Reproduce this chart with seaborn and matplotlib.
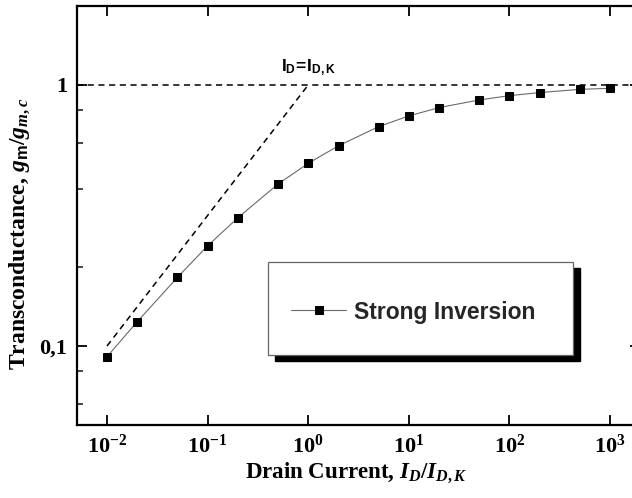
import matplotlib
matplotlib.use("Agg")
import matplotlib.pyplot as plt
from matplotlib.patches import Rectangle
from matplotlib.ticker import FixedLocator, FixedFormatter, NullFormatter
import pandas as pd
import seaborn as sns

# Normalised drain current and transconductance (strong inversion curve)
current_ratio = [0.01, 0.02, 0.05, 0.1, 0.2, 0.5, 1, 2, 5, 10, 20, 50, 100, 200, 500, 1000]
gm_ratio = [0.091, 0.124, 0.183, 0.242, 0.310, 0.417, 0.501, 0.585, 0.692,
            0.761, 0.819, 0.876, 0.910, 0.935, 0.962, 0.971]

# Weak-inversion asymptote and saturation level
asym_x = [0.01, 1.0]
asym_y = [0.1, 1.0]
sat_level = 1.0

x_ticks = [1e-2, 1e-1, 1e0, 1e1, 1e2, 1e3]
x_tick_labels = [r"$\mathbf{10^{-2}}$", r"$\mathbf{10^{-1}}$", r"$\mathbf{10^{0}}$",
                 r"$\mathbf{10^{1}}$", r"$\mathbf{10^{2}}$", r"$\mathbf{10^{3}}$"]
y_ticks = [0.1, 1.0]
y_tick_labels = ["0,1", "1"]
y_minor_ticks = [0.06, 0.08, 0.2, 0.4, 0.6, 0.8]

sns.set_theme(style="ticks")
plt.rcParams.update({
    "font.family": ["Liberation Serif", "DejaVu Serif"],
    "font.weight": "bold",
    "mathtext.fontset": "custom",
    "mathtext.rm": "Liberation Serif:bold",
    "mathtext.bf": "Liberation Serif:bold",
    "mathtext.it": "Liberation Serif:italic:bold",
    "mathtext.sf": "Liberation Sans",
})

df = pd.DataFrame({"current": current_ratio, "gm": gm_ratio})

fig = plt.figure(figsize=(6.32, 4.98), dpi=100)
ax = fig.add_axes([0.1214, 0.1474, 0.8918, 0.8398])
ax.set_xscale("log")
ax.set_yscale("log")

sns.lineplot(data=df, x="current", y="gm", ax=ax, color="#6a6a6a", lw=0.8,
             marker="s", markersize=6, markerfacecolor="black",
             markeredgecolor="black", label="Strong Inversion", zorder=4)

ax.plot(asym_x, asym_y, color="black", lw=1.1, ls=(0, (4, 3)), zorder=3)
ax.axhline(sat_level, color="black", lw=1.1, ls=(0, (4, 3)), zorder=3)

ax.text(1.0, 1.06, r"$\mathsf{I_D\!=\!I_{D,K}}$", fontsize=12.5,
        ha="center", va="bottom", color="black")

ax.set_xlim(5e-3, 2e3)
ax.set_ylim(0.05, 2.0)

ax.xaxis.set_major_locator(FixedLocator(x_ticks))
ax.xaxis.set_major_formatter(FixedFormatter(x_tick_labels))
ax.xaxis.set_minor_locator(FixedLocator([]))
ax.yaxis.set_major_locator(FixedLocator(y_ticks))
ax.yaxis.set_major_formatter(FixedFormatter(y_tick_labels))
ax.yaxis.set_minor_locator(FixedLocator(y_minor_ticks))
ax.yaxis.set_minor_formatter(NullFormatter())

ax.tick_params(axis="both", which="major", direction="in", length=7, width=1.3,
               top=True, right=True, labelsize=16, colors="black")
ax.tick_params(axis="y", which="minor", direction="in", length=4, width=1.2, right=True)
ax.tick_params(axis="x", which="major", pad=7)
ax.tick_params(axis="y", which="major", pad=7)
for lbl in ax.get_yticklabels():
    lbl.set_fontweight("bold")

for side in ("left", "bottom", "top", "right"):
    ax.spines[side].set_linewidth(1.6)
    ax.spines[side].set_color("black")

ax.set_xlabel(r"Drain Current, $I_D/I_{D,K}$", fontsize=16.5, fontweight="bold", color="black")
ax.set_ylabel(r"Transconductance, $g_{\mathsf{m}}/g_{m,c}$", fontsize=17,
              fontweight="bold", color="black")
ax.xaxis.set_label_coords(0.4956, -0.088)
ax.yaxis.set_label_coords(-0.079, 0.456)

# Legend box with solid drop shadow
box_x, box_y, box_w, box_h = 0.3394, 0.1664, 0.5412, 0.2224
ax.add_patch(Rectangle((box_x + 0.0124, box_y - 0.0143), box_w, box_h,
                       transform=ax.transAxes, facecolor="black", edgecolor="black",
                       zorder=5))
ax.add_patch(Rectangle((box_x, box_y), box_w, box_h, transform=ax.transAxes,
                       facecolor="white", edgecolor="#666666", lw=0.9, zorder=6))
handles, labels = ax.get_legend_handles_labels()
leg = ax.legend(handles, labels, loc="center left", bbox_to_anchor=(0.3802, 0.2692),
                frameon=False, borderpad=0, borderaxespad=0, handlelength=2.4,
                handletextpad=0.35,
                prop={"family": "Liberation Sans", "weight": "bold", "size": 16.5})
leg.set_zorder(7)

fig.savefig("out.png", dpi=100)
